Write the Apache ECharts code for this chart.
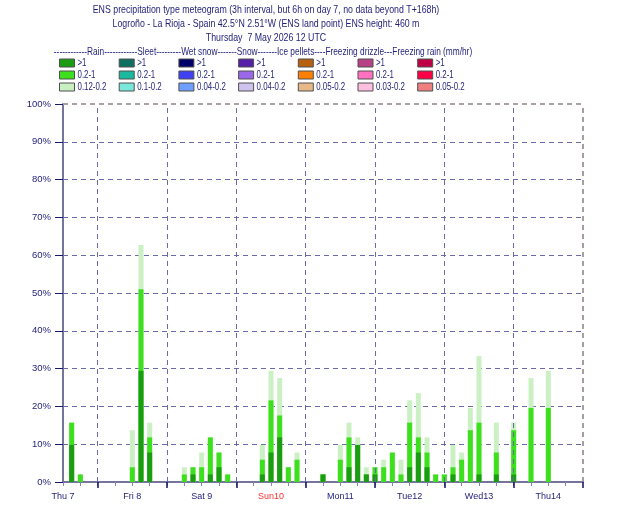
<!DOCTYPE html>
<html>
<head>
<meta charset="utf-8">
<script src="https://cdn.jsdelivr.net/npm/echarts@6/dist/echarts.min.js"></script>
<style>
  html, body { margin: 0; padding: 0; background: #fff; }
  #main { width: 630px; height: 525px; }
</style>
</head>
<body>
<div id="main"></div>
<script>
// forecast step (hours after Thu 7 12 UTC)
var hours      = [3, 6, 24, 27, 30, 42, 45, 48, 51, 54, 57, 69, 72, 75, 78, 81, 90, 96, 99, 102, 105, 108, 111, 114, 117, 120, 123, 126, 129, 132, 135, 138, 141, 144, 150, 156, 162, 168];
// probability (%) of rain rate above each threshold
var rainLight  = [15.7, 2.0, 13.7, 62.7, 15.7, 3.9, 3.9, 7.8, 11.8, 7.8, 2.0, 9.8, 29.4, 27.5, 3.9, 7.8, 2.0, 9.8, 15.7, 11.8, 3.9, 3.9, 5.9, 7.8, 5.9, 21.6, 23.5, 11.8, 2.0, 2.0, 9.8, 7.8, 19.6, 33.3, 15.7, 15.7, 27.5, 29.4];
var rainMid    = [15.7, 2.0, 3.9, 51.0, 11.8, 2.0, 3.9, 3.9, 11.8, 7.8, 2.0, 5.9, 21.6, 17.6, 3.9, 5.9, 2.0, 5.9, 11.8, 9.8, 2.0, 3.9, 3.9, 7.8, 2.0, 15.7, 11.8, 7.8, 2.0, 2.0, 3.9, 5.9, 13.7, 15.7, 7.8, 13.7, 19.6, 19.6];
var rainHeavy  = [9.8, 0, 0, 29.4, 7.8, 0, 2.0, 0, 2.0, 3.9, 0, 2.0, 7.8, 11.8, 0, 0, 2.0, 0, 3.9, 9.8, 2.0, 2.0, 0, 0, 0, 3.9, 7.8, 3.9, 0, 0, 2.0, 0, 0, 2.0, 2.0, 2.0, 0, 0];

var dayLabels  = ['Thu 7', 'Fri 8', 'Sat 9', 'Sun10', 'Mon11', 'Tue12', 'Wed13', 'Thu14'];
var dayBounds  = [12, 36, 60, 84, 108, 132, 156];

var legendHead = '------------Rain------------Sleet---------Wet snow-------Snow-------Ice pellets----Freezing drizzle---Freezing rain (mm/hr)';
var legendCols = [
  { colors: ['#1c9c12', '#3ce01c', '#c8f0c0'], labels: ['>1', '0.2-1', '0.12-0.2'] },
  { colors: ['#0e6e60', '#1cb8a0', '#7ae8da'], labels: ['>1', '0.2-1', '0.1-0.2'] },
  { colors: ['#000068', '#4040f4', '#70a0ff'], labels: ['>1', '0.2-1', '0.04-0.2'] },
  { colors: ['#5420aa', '#9a68e8', '#d0c2ee'], labels: ['>1', '0.2-1', '0.04-0.2'] },
  { colors: ['#b86010', '#ff8000', '#e8b888'], labels: ['>1', '0.2-1', '0.05-0.2'] },
  { colors: ['#b84084', '#ff70c0', '#ffc0e0'], labels: ['>1', '0.2-1', '0.03-0.2'] },
  { colors: ['#c00044', '#ff0044', '#f08080'], labels: ['>1', '0.2-1', '0.05-0.2'] }
];

var FONT = '"Liberation Sans", Arial, sans-serif';
var NAVY = '#1e1e78';
var NARROW = 0.8; // the original uses a condensed face

function pairs(vals) {
  return hours.map(function (h, i) { return [h, vals[i]]; });
}

var graphics = [];
var titles = [
  'ENS precipitation type meteogram (3h interval, but 6h on day 7, no data beyond T+168h)',
  'Logroño - La Rioja - Spain 42.5°N 2.51°W (ENS land point) ENS height: 460 m',
  'Thursday  7 May 2026 12 UTC'
];
var titleY = [10, 24, 38];
titles.forEach(function (t, i) {
  graphics.push({ type: 'text', x: 266, y: titleY[i], scaleX: NARROW,
    style: { text: t, fill: NAVY, font: '11px ' + FONT, textAlign: 'center', textVerticalAlign: 'middle' } });
});
graphics.push({ type: 'text', x: 263, y: 52, scaleX: 0.755,
  style: { text: legendHead, fill: NAVY, font: '11px ' + FONT, textAlign: 'center', textVerticalAlign: 'middle' } });
legendCols.forEach(function (col, c) {
  var x0 = 59.5 + c * 59.7;
  col.colors.forEach(function (clr, r) {
    var y0 = 59 + r * 12;
    graphics.push({ type: 'rect', shape: { x: x0, y: y0, width: 15, height: 8 },
      style: { fill: clr, stroke: '#505050', lineWidth: 1 } });
    graphics.push({ type: 'text', x: x0 + 18, y: y0 + 4, scaleX: 0.75,
      style: { text: col.labels[r], fill: NAVY, font: '10.5px ' + FONT, textVerticalAlign: 'middle' } });
  });
});

var chart = echarts.init(document.getElementById('main'), null, { renderer: 'canvas' });
chart.setOption({
  animation: false,
  backgroundColor: '#fff',
  textStyle: { fontFamily: FONT },
  graphic: graphics,
  grid: { left: 63, right: 47, top: 104, bottom: 43 },
  xAxis: [{
    type: 'value', min: 0, max: 180, interval: 6,
    axisLine: { lineStyle: { color: '#74749c', width: 2 } },
    axisTick: { length: 4, lineStyle: { color: '#8484b0' } },
    splitLine: { show: false },
    axisLabel: {
      margin: 10, fontSize: 9, color: NAVY, fontFamily: FONT, showMaxLabel: false,
      formatter: function (v) {
        if (v % 24) return '';
        var s = dayLabels[v / 24] || '';
        return v === 72 ? '{red|' + s + '}' : s;
      },
      rich: { red: { color: '#ff3030', fontSize: 9, fontFamily: FONT } }
    }
  }, {
    type: 'value', min: 0, max: 180, position: 'bottom',
    axisLine: { show: false },
    axisLabel: { show: false },
    splitLine: { show: false },
    axisTick: { show: true, length: 6, customValues: dayBounds.concat([180]),
      lineStyle: { color: '#101060', width: 1.5 } }
  }],
  yAxis: {
    type: 'value', min: 0, max: 100, interval: 10,
    axisLine: { show: true, lineStyle: { color: '#74749c', width: 2 } },
    axisTick: { show: true, length: 8, lineStyle: { color: '#18186c' } },
    axisLabel: { margin: 12, fontSize: 9.5, color: NAVY, fontFamily: FONT, formatter: '{value}%' },
    splitLine: { lineStyle: { type: [5, 4], color: '#6a6aa8', width: 1 } }
  },
  series: [
    {
      type: 'line', data: [], z: 1, silent: true,
      markLine: {
        symbol: 'none', silent: true, label: { show: false },
        lineStyle: { type: [5, 4], color: '#6a6aa8', width: 1 },
        data: dayBounds.map(function (d) { return { xAxis: d }; }).concat([
          { yAxis: 100, lineStyle: { type: [5, 4], color: '#aaa2a8', width: 2 } },
          { xAxis: 180, lineStyle: { type: [5, 4], color: '#8a8080', width: 1.5 } }
        ])
      }
    },
    { name: '0.12-0.2', type: 'bar', z: 2, barWidth: 5, barGap: '-100%', data: pairs(rainLight), itemStyle: { color: '#cbf0c3' } },
    { name: '0.2-1', type: 'bar', z: 2, barWidth: 5, barGap: '-100%', data: pairs(rainMid), itemStyle: { color: '#3ce01c' } },
    { name: '>1', type: 'bar', z: 2, barWidth: 5, barGap: '-100%', data: pairs(rainHeavy), itemStyle: { color: '#1c9c12' } }
  ]
});
</script>
</body>
</html>
